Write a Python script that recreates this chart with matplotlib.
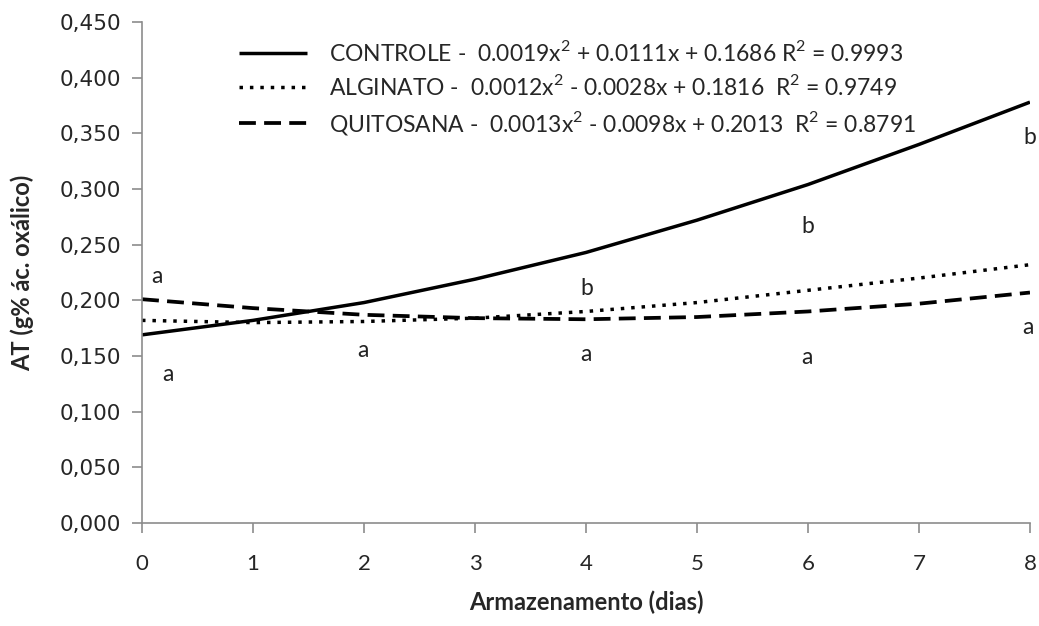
import numpy as np
import matplotlib
matplotlib.use("Agg")
import matplotlib.pyplot as plt
from matplotlib.ticker import FuncFormatter

plt.rcParams['font.family'] = ['Lato', 'DejaVu Sans']
plt.rcParams['mathtext.fontset'] = 'custom'
plt.rcParams['mathtext.rm'] = 'Lato'

# dias de armazenamento
dias = [0, 1, 2, 3, 4, 5, 6, 7, 8]

# AT (g% ac. oxalico)
controle = [0.169, 0.182, 0.198, 0.219, 0.243, 0.272, 0.304, 0.340, 0.378]
alginato = [0.182, 0.180, 0.181, 0.184, 0.190, 0.198, 0.209, 0.220, 0.232]
quitosana = [0.201, 0.193, 0.187, 0.184, 0.183, 0.185, 0.190, 0.197, 0.207]

legendas = ['CONTROLE -  0.0019x$^2$ + 0.0111x + 0.1686 R$^2$ = 0.9993',
            'ALGINATO -  0.0012x$^2$ - 0.0028x + 0.1816  R$^2$ = 0.9749',
            'QUITOSANA -  0.0013x$^2$ - 0.0098x + 0.2013  R$^2$ = 0.8791']

# letras de significancia
letras = ['a', 'a', 'a', 'b', 'a', 'b', 'a', 'b', 'a']
letras_x = [0.13, 0.23, 1.99, 4.01, 4.0, 6.0, 5.99, 8.0, 7.98]
letras_y = [0.221, 0.133, 0.155, 0.211, 0.151, 0.266, 0.149, 0.346, 0.176]

fig = plt.figure(figsize=(10.39, 6.26), dpi=100)
ax = fig.add_axes([0.1367, 0.1645, 0.8546, 0.8004])

l1, = ax.plot(dias, controle, color='black', lw=2.5, solid_capstyle='butt')
l2, = ax.plot(dias, alginato, color='black', lw=2.5, linestyle=(0, (1, 2.0)))
l3, = ax.plot(dias, quitosana, color='black', lw=2.7, linestyle=(0, (4.5, 2.2)))

for t, x, y in zip(letras, letras_x, letras_y):
    ax.text(x, y, t, ha='center', va='center', fontsize=16.5, color='#222222')

ax.set_xlim(0, 8)
ax.set_ylim(0, 0.45)
ax.set_xticks(dias)
ax.set_yticks(np.arange(0, 0.451, 0.05))
ax.yaxis.set_major_formatter(FuncFormatter(lambda v, p: f"{v:.3f}".replace('.', ',')))

for s in ['top', 'right']:
    ax.spines[s].set_visible(False)
for s in ['left', 'bottom']:
    ax.spines[s].set_color('#8c8c8c')
    ax.spines[s].set_linewidth(1.2)
ax.tick_params(axis='both', colors='#8c8c8c', length=7, width=1.2, direction='out')
ax.tick_params(axis='y', labelcolor='#262626', labelsize=15.5, pad=8)
ax.tick_params(axis='x', labelcolor='#262626', labelsize=16, pad=15)
for lab in ax.get_yticklabels():
    lab.set_family(['DejaVu Sans'])

ax.set_xlabel('Armazenamento (dias)', fontsize=17, fontweight='bold', labelpad=12, color='#262626')
ax.set_ylabel('AT (g% ác. oxálico)', fontsize=17, fontweight='bold', labelpad=18, color='#262626')

ax.legend([l1, l2, l3], legendas, loc='upper left', bbox_to_anchor=(0.088, 1.0),
          frameon=False, fontsize=16.5, handlelength=3.0, handletextpad=0.95,
          labelspacing=0.4, borderpad=0.3, labelcolor='#262626')

fig.savefig('out.png', dpi=100)
